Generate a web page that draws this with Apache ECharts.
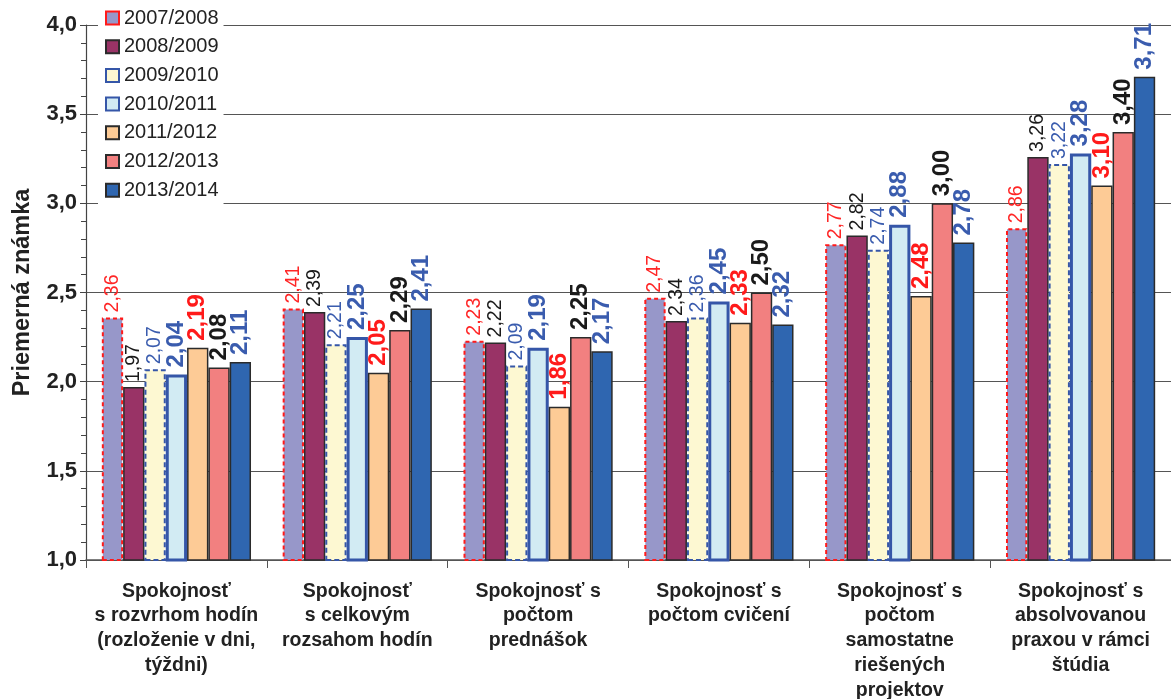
<!DOCTYPE html>
<html>
<head>
<meta charset="utf-8">
<script src="https://cdn.jsdelivr.net/npm/echarts@6/dist/echarts.min.js"></script>
<style>
  html, body { margin: 0; padding: 0; background: #fff; }
  #chart { width: 1171px; height: 699px; }
</style>
</head>
<body>
<div id="chart"></div>
<script>
// Survey categories (x axis)
const categories = [
  'Spokojnosť\ns rozvrhom hodín\n(rozloženie v dni,\ntýždni)',
  'Spokojnosť\ns celkovým\nrozsahom hodín',
  'Spokojnosť s\npočtom\nprednášok',
  'Spokojnosť s\npočtom cvičení',
  'Spokojnosť s\npočtom\nsamostatne\nriešených\nprojektov',
  'Spokojnosť s\nabsolvovanou\npraxou v rámci\nštúdia'
];

// Average grade per academic year
const years = ['2007/2008', '2008/2009', '2009/2010', '2010/2011', '2011/2012', '2012/2013', '2013/2014'];
const v2007 = [2.36, 2.41, 2.23, 2.47, 2.77, 2.86];
const v2008 = [1.97, 2.39, 2.22, 2.34, 2.82, 3.26];
const v2009 = [2.07, 2.21, 2.09, 2.36, 2.74, 3.22];
const v2010 = [2.04, 2.25, 2.19, 2.45, 2.88, 3.28];
const v2011 = [2.19, 2.05, 1.86, 2.33, 2.48, 3.10];
const v2012 = [2.08, 2.29, 2.25, 2.50, 3.00, 3.40];
const v2013 = [2.11, 2.41, 2.17, 2.32, 2.78, 3.71];

// Y axis ticks
const yMin = 1.0, yMax = 4.0, yStep = 0.5;

const FONT = '"Liberation Sans", Arial, sans-serif';
const fmt = v => v.toFixed(2).replace('.', ',');

function label(color, bold) {
  return {
    show: true,
    position: 'top',
    rotate: 90,
    align: 'left',
    verticalAlign: 'middle',
    distance: bold ? 7 : 5,
    fontFamily: FONT,
    fontSize: bold ? 24 : 19.5,
    fontWeight: bold ? 'bold' : 'normal',
    color: color,
    formatter: p => fmt(p.value)
  };
}

const styles = [
  { data: v2007, itemStyle: { color: '#9797c9', borderColor: '#ff1a1a', borderWidth: 2, borderType: [4, 3] }, label: label('#ff2626', false) },
  { data: v2008, itemStyle: { color: '#993366', borderColor: '#2b2b2b', borderWidth: 1.5 }, label: label('#1a1a1a', false) },
  { data: v2009, itemStyle: { color: '#fdf8d2', borderColor: '#3556a8', borderWidth: 2, borderType: [5, 3] }, label: label('#3a5cae', false) },
  { data: v2010, itemStyle: { color: '#d2ebf3', borderColor: '#3556a8', borderWidth: 3 }, label: label('#3a5cae', true) },
  { data: v2011, itemStyle: { color: '#fdcb96', borderColor: '#2b2b2b', borderWidth: 1.5 }, label: label('#ff1a1a', true) },
  { data: v2012, itemStyle: { color: '#f28080', borderColor: '#2b2b2b', borderWidth: 1.5 }, label: label('#1a1a1a', true) },
  { data: v2013, itemStyle: { color: '#2f66b0', borderColor: '#2b2b2b', borderWidth: 1.5 }, label: label('#3a5cae', true) }
];

const series = styles.map((s, i) => ({
  name: years[i],
  type: 'bar',
  data: s.data,
  barGap: '0%',
  barCategoryGap: '17.5%',
  itemStyle: s.itemStyle,
  label: s.label,
  labelLayout: { hideOverlap: false }
}));

const chart = echarts.init(document.getElementById('chart'), null, { renderer: 'canvas' });
chart.setOption({
  animation: false,
  backgroundColor: '#fff',
  textStyle: { fontFamily: FONT },
  grid: { left: 86, right: 0, top: 25, bottom: 139, containLabel: false, outerBoundsMode: 'none' },
  legend: {
    orient: 'vertical',
    left: 98,
    top: 2,
    padding: [6, 5, 6, 7],
    backgroundColor: '#fff',
    itemWidth: 13,
    itemHeight: 13,
    itemGap: 8.7,
    icon: 'rect',
    textStyle: { fontFamily: FONT, fontSize: 20, color: '#222' },
    data: years
  },
  xAxis: {
    type: 'category',
    data: categories,
    axisLine: { show: true, lineStyle: { color: '#555', width: 1.5 } },
    axisTick: { show: true, alignWithLabel: false, length: 8, lineStyle: { color: '#555' } },
    axisLabel: {
      interval: 0,
      margin: 19,
      fontFamily: FONT,
      fontSize: 19.5,
      fontWeight: 'bold',
      color: '#222',
      lineHeight: 24.7
    },
    splitLine: { show: false }
  },
  yAxis: {
    type: 'value',
    min: yMin,
    max: yMax,
    interval: yStep,
    name: 'Priemerná známka',
    nameLocation: 'middle',
    nameGap: 51,
    nameRotate: 90,
    nameTextStyle: { fontFamily: FONT, fontSize: 23.5, fontWeight: 'bold', color: '#222' },
    axisLine: { show: true, lineStyle: { color: '#444', width: 1.2 } },
    axisTick: { show: true, length: 6, lineStyle: { color: '#444' } },
    minorTick: { show: true, splitNumber: 5, length: 5, lineStyle: { color: '#444' } },
    axisLabel: {
      margin: 9,
      fontFamily: FONT,
      fontSize: 22,
      fontWeight: 'bold',
      color: '#222',
      formatter: v => v.toFixed(1).replace('.', ',')
    },
    splitLine: { show: true, lineStyle: { color: '#555', width: 1.2 } }
  },
  series: series
});
</script>
</body>
</html>
